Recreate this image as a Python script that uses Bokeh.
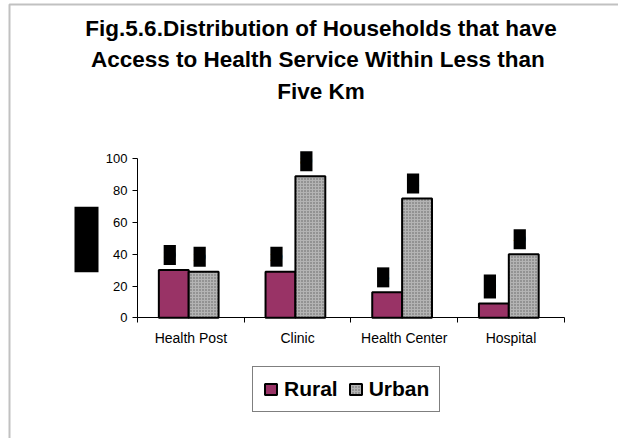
import math
from bokeh.plotting import figure
from bokeh.models import (Range1d, FixedTicker, LinearAxis, Label, Legend, LegendItem,
                          BoxAnnotation, ColumnDataSource)
from bokeh.core.properties import value
from bokeh.embed import file_html
from bokeh.resources import INLINE

# ---- data ----
categories = ["Health Post", "Clinic", "Health Center", "Hospital"]
rural = [30, 29, 16, 9]
urban = [29, 89, 75, 40]
y_ticks = [0, 20, 40, 60, 80, 100]
title_lines = [
    "Fig.5.6.Distribution of Households that have",
    "Access to  Health Service Within Less than",
    "Five Km",
]
y_title = "Percent"
series_names = ["Rural", "Urban"]

FONT = "Liberation Sans"
W, H = 618, 438
AX_X, AX_Y = 137, 317.3        # canvas position of the axes' origin
PX_PER_CAT = 106.7
PX_PER_UNIT = 1.59

p = figure(width=W, height=H, output_backend="svg", toolbar_location=None,
           x_range=Range1d(-AX_X / PX_PER_CAT, (W - AX_X) / PX_PER_CAT),
           y_range=Range1d(-(H - AX_Y) / PX_PER_UNIT, AX_Y / PX_PER_UNIT),
           x_axis_type=None, y_axis_type=None,
           min_border_left=0, min_border_right=0,
           min_border_top=0, min_border_bottom=0)
p.outline_line_color = None
p.background_fill_color = "white"
p.border_fill_color = "white"

n = len(categories)
centers = [i + 0.5 for i in range(n)]


def label_text(v):
    # pad single digits with a figure space so every label box has the same width
    return str(v).rjust(2, "\u2007")


src = ColumnDataSource(dict(
    cat=categories,
    xr=[c - 0.16 for c in centers],
    xu=[c + 0.12 for c in centers],
    rural=rural, urban=urban,
    rl=[label_text(v) for v in rural], ul=[label_text(v) for v in urban],
))

# axes (fixed at the origin so the frame spans the whole chart area)
xaxis = LinearAxis(ticker=FixedTicker(ticks=centers, minor_ticks=list(range(n + 1))),
                   major_label_overrides={c: lab for c, lab in zip(centers, categories)},
                   bounds=(0, n), fixed_location=0,
                   major_tick_out=0, major_tick_in=0,
                   minor_tick_out=5, minor_tick_in=0,
                   minor_tick_line_color="black",
                   axis_line_color="black", axis_line_width=1,
                   major_label_standoff=7,
                   major_label_text_font=FONT, major_label_text_font_size="14px",
                   major_label_text_color="black")
p.add_layout(xaxis, "below")

yaxis = LinearAxis(ticker=FixedTicker(ticks=y_ticks), bounds=(0, 100), fixed_location=0,
                   major_tick_out=5, major_tick_in=0,
                   minor_tick_out=0, minor_tick_in=0,
                   major_tick_line_color="black",
                   axis_line_color="black", axis_line_width=1,
                   major_label_standoff=5,
                   major_label_text_font=FONT, major_label_text_font_size="13px",
                   major_label_text_color="black")
p.add_layout(yaxis, "left")

# bars
r1 = p.vbar(x="xr", top="rural", bottom=0, width=0.28, source=src,
            fill_color="#993366", line_color="black", line_width=2)
r2 = p.vbar(x="xu", top="urban", bottom=0, width=0.28, source=src,
            fill_color="#b4b4b4", line_color="black", line_width=2,
            hatch_pattern="dot", hatch_color="#606060", hatch_scale=3, hatch_weight=1)

# data labels (rendered black on black, as in the reference)
for xcol, ycol, tcol in (("xr", "rural", "rl"), ("xu", "urban", "ul")):
    p.text(x=xcol, y=ycol, text=tcol, source=src,
           text_font=value(FONT), text_font_size="11px", text_color="black",
           background_fill_color="black", padding=dict(x=0, y=6),
           anchor="bottom_center", x_offset=-4, y_offset=-5)

# y-axis title
p.add_layout(Label(x=86, y=H - 239, x_units="screen", y_units="screen",
                   text=y_title, angle=math.pi / 2,
                   text_align="center", text_baseline="middle",
                   text_font=FONT, text_font_size="12px", text_color="black",
                   background_fill_color="black", padding=dict(x=12, y=5)))

# chart title
for line, yc in zip(title_lines, [27.5, 59, 90.5]):
    p.add_layout(Label(x=320.5, y=H - yc, x_units="screen", y_units="screen", text=line,
                       text_align="center", text_baseline="middle",
                       text_font=FONT, text_font_size="22.5px", text_font_style="bold",
                       text_color="black"))

# legend
legend = Legend(items=[LegendItem(label=series_names[0], renderers=[r1]),
                       LegendItem(label=series_names[1], renderers=[r2])],
                orientation="horizontal", location=(252, H - 412),
                label_text_font=FONT, label_text_font_size="21px",
                label_text_font_style="bold", label_text_color="black",
                glyph_width=15, glyph_height=14, label_standoff=6, spacing=10,
                padding=10, margin=0, border_line_color="black", border_line_width=1,
                background_fill_color="white", background_fill_alpha=1)
p.add_layout(legend)

# outer chart-area border (left and top visible)
p.add_layout(BoxAnnotation(left=9, right=3000, top=H - 4, bottom=-3000,
                           left_units="screen", right_units="screen",
                           top_units="screen", bottom_units="screen",
                           fill_color=None, fill_alpha=0,
                           line_color="#333333", line_width=2))

open("out.html", "w").write(file_html(p, INLINE))
